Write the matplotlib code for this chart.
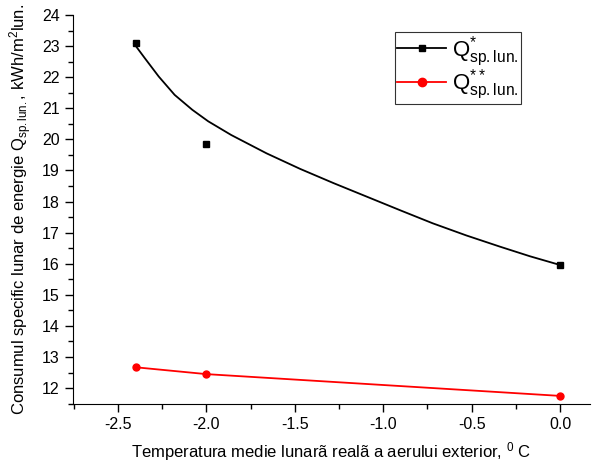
import matplotlib
matplotlib.use('Agg')
import matplotlib.pyplot as plt
from matplotlib.ticker import MultipleLocator

plt.rcParams['font.family'] = ['Liberation Sans', 'DejaVu Sans']
plt.rcParams['mathtext.fontset'] = 'custom'
plt.rcParams['mathtext.rm'] = 'Liberation Sans'
plt.rcParams['mathtext.it'] = 'Liberation Sans:italic'
plt.rcParams['mathtext.default'] = 'regular'

# measured points
x_pts = [-2.4, -2.0, 0.0]
q1_pts = [23.1, 19.85, 15.95]
q2_pts = [12.67, 12.45, 11.75]

# fitted curve of Q*
x_fit = [-2.41, -2.35, -2.27, -2.18, -2.08, -1.99, -1.86, -1.66, -1.47,
         -1.28, -1.09, -0.9, -0.72, -0.53, -0.34, -0.17, 0.0]
q1_fit = [23.08, 22.62, 22.02, 21.43, 20.95, 20.58, 20.14, 19.55, 19.05,
          18.59, 18.15, 17.71, 17.30, 16.91, 16.55, 16.24, 15.96]

fig = plt.figure(figsize=(5.95, 4.68), dpi=100)
ax = fig.add_axes([0.1227, 0.1368, 0.869, 0.8312])

# Q* : points + fitted curve
ax.plot(x_fit, q1_fit, color='black', lw=1.3, solid_joinstyle='round')
ax.plot(x_pts, q1_pts, ls='none', marker='s', ms=4.5, color='black')
# Q** : points joined by lines
ax.plot(x_pts, q2_pts, color='red', lw=1.3, marker='o', ms=5)

# legend handles
h1, = ax.plot([], [], color='black', lw=1.3, marker='s', ms=5)
h2, = ax.plot([], [], color='red', lw=1.3, marker='o', ms=6)
leg = ax.legend([h1, h2],
                [r'$Q^{*}_{sp.lun.}$', r'$Q^{**}_{sp.lun.}$'],
                loc='upper left', bbox_to_anchor=(0.623, 0.956),
                fontsize=16, frameon=True, fancybox=False,
                edgecolor='black', handlelength=2.2, borderpad=0.1,
                labelspacing=-0.05, handletextpad=0.25, borderaxespad=0)
leg.get_frame().set_linewidth(0.8)

ax.set_xlim(-2.755, 0.17)
ax.set_ylim(11.49, 24)
ax.xaxis.set_minor_locator(MultipleLocator(0.25))
ax.yaxis.set_minor_locator(MultipleLocator(0.5))
ax.set_xticks([-2.5, -2.0, -1.5, -1.0, -0.5, 0.0])
ax.set_xticklabels(['-2.5', '-2.0', '-1.5', '-1.0', '-0.5', '0.0'])
ax.set_yticks(range(12, 25))

ax.spines['top'].set_visible(False)
ax.spines['right'].set_visible(False)
ax.tick_params(which='major', direction='out', length=6, width=1, labelsize=11.5)
ax.tick_params(which='minor', direction='out', length=3.5, width=1)

ax.set_xlabel('Temperatura medie lunarã realã a aerului exterior, $^{0}$ C', fontsize=12, labelpad=6)
ax.set_ylabel(r'Consumul specific lunar de energie $Q_{sp.lun.}$, kWh/m$^{2}$lun.', fontsize=12, labelpad=6)

fig.savefig('out.png', dpi=100)
